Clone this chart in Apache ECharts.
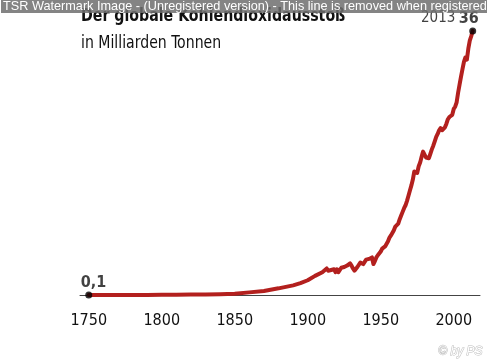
<!DOCTYPE html>
<html><head><meta charset="utf-8">
<script src="https://cdn.jsdelivr.net/npm/echarts@6/dist/echarts.min.js"></script>
<style>html,body{margin:0;padding:0;background:#fff}#c{width:487px;height:360px}</style>
</head><body><div id="c"></div>
<script>
const titleText = 'Der globale Kohlendioxidausstoß';
const subtitleText = 'in Milliarden Tonnen';
const watermarkText = 'TSR Watermark Image - (Unregistered version) - This line is removed when registered';
const creditText = '© by PS';
const xTicks = [1750, 1800, 1850, 1900, 1950, 2000];
const years = [1750,1760,1770,1780,1790,1800,1810,1820,1830,1840,1850,1860,1870,1880,1890,1895,1900,1905,1910,1913,1914,1915,1916,1917,1918,1919,1920,1921,1922,1923,1924,1925,1926,1927,1928,1929,1930,1931,1932,1933,1934,1935,1936,1937,1938,1939,1940,1941,1942,1943,1944,1945,1946,1947,1948,1949,1950,1951,1952,1953,1954,1955,1956,1957,1958,1959,1960,1961,1962,1963,1964,1965,1966,1967,1968,1969,1970,1971,1972,1973,1974,1975,1976,1977,1978,1979,1980,1981,1982,1983,1984,1985,1986,1987,1988,1989,1990,1991,1992,1993,1994,1995,1996,1997,1998,1999,2000,2001,2002,2003,2004,2005,2006,2007,2008,2009,2010,2011,2012,2013];
const co2 = [0.1,0.1,0.1,0.1,0.1,0.12,0.13,0.15,0.17,0.2,0.25,0.45,0.65,1.0,1.4,1.7,2.1,2.7,3.2,3.7,3.4,3.3,3.5,3.7,3.6,3.2,3.6,3.2,3.4,3.8,3.8,3.9,3.9,4.1,4.1,4.4,4.1,3.7,3.4,3.6,3.9,4.1,4.5,4.6,4.3,4.6,4.9,5.0,5.0,5.2,5.2,4.3,4.7,5.2,5.5,5.3,6.0,6.4,6.5,6.7,6.8,7.4,7.9,8.2,8.4,8.9,9.4,9.4,9.8,10.4,10.9,11.4,11.9,12.3,12.9,13.6,14.3,15.0,15.8,16.9,16.8,16.7,17.6,18.1,18.9,19.6,19.2,18.8,18.6,18.7,19.3,19.9,20.4,21.0,21.6,22.0,22.5,22.8,22.5,22.6,22.9,23.4,24.0,24.3,24.3,24.6,25.4,25.7,26.3,27.6,28.7,29.8,30.8,31.8,32.4,32.1,33.6,34.7,35.3,36];
const startLabel = '0,1';
const endLabel = '36';
const narrow = "'DejaVu Sans Condensed','Liberation Sans Narrow',sans-serif";
const lineData = years.map((y, i) => [y, co2[i]]);
const endPoints = [lineData[0], lineData[lineData.length - 1]];

const chart = echarts.init(document.getElementById('c'), null, {renderer: 'canvas'});
chart.setOption({
  backgroundColor: '#fff',
  animation: false,
  grid: {left: 80, right: 7, top: 31, bottom: 56},
  xAxis: {
    type: 'value', min: 1744, max: 2018,
    axisLine: {show: true, lineStyle: {color: '#444', width: 1}},
    axisTick: {show: false},
    splitLine: {show: false},
    axisLabel: {customValues: xTicks, color: '#111', fontSize: 16, fontFamily: narrow, margin: 9,
      formatter: v => String(v)}
  },
  yAxis: {
    type: 'value', min: -1.13, max: 36, show: false, splitLine: {show: false}
  },
  series: [
    {type: 'line', data: lineData, showSymbol: false, smooth: false,
     lineStyle: {color: '#b3201e', width: 4, join: 'round', cap: 'round'}, z: 2},
    {type: 'scatter', data: [
      {value: endPoints[0], label: {show: true, position: 'top', align: 'left', offset: [-8, 0], distance: 1,
        formatter: '{b|' + startLabel + '}'}},
      {value: endPoints[1], label: {show: true, position: 'top', align: 'right', offset: [6, 0], distance: 1,
        formatter: '{a|' + years[years.length - 1] + '} {b|' + endLabel + '}'}}
     ],
     symbolSize: 7, itemStyle: {color: '#000'}, z: 3,
     label: {rich: {
       a: {fontFamily: narrow, fontSize: 15, color: '#111'},
       b: {fontFamily: narrow, fontSize: 16, fontWeight: 'bold', color: '#111'}
     }}}
  ],
  graphic: [
    {type: 'text', x: 81, y: 7, scaleX: 0.875, z: 10, style: {text: titleText, font: "bold 18px " + narrow, fill: '#111', textVerticalAlign: 'top'}},
    {type: 'text', x: 81, y: 35, scaleX: 0.92, z: 10, style: {text: subtitleText, font: "17px " + narrow, fill: '#111', textVerticalAlign: 'top'}},
    {type: 'text', x: 1, y: 0, z: 100, style: {text: watermarkText, font: "12.7px 'Liberation Sans',Arial,sans-serif", fill: '#fff',
      textVerticalAlign: 'top', backgroundColor: 'rgba(110,110,110,0.85)', padding: [0, 2, 0, 2]}},
    {type: 'text', right: 4, bottom: 2, z: 10, style: {text: creditText, font: "italic 12px 'Liberation Sans',Arial,sans-serif", fill: '#fff', stroke: '#bbb', lineWidth: 1}}
  ]
});
</script></body></html>
